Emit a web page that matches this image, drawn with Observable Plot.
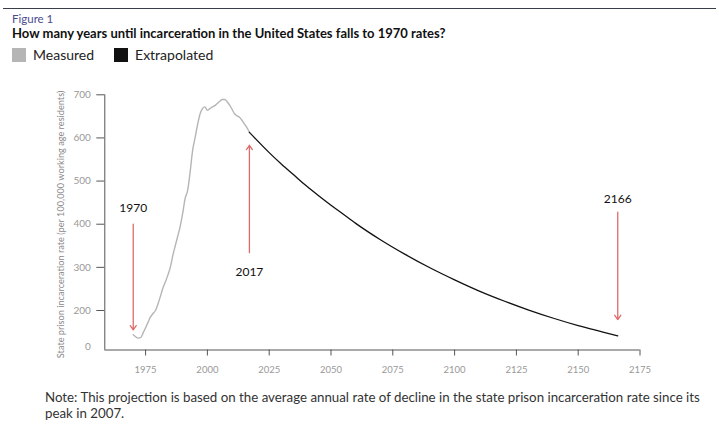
<!DOCTYPE html>
<html><head><meta charset="utf-8">
<script src="https://cdn.jsdelivr.net/npm/d3@7"></script>
<script src="https://cdn.jsdelivr.net/npm/@observablehq/plot@0.6"></script>
<style>
body{margin:0;background:#fff;font-family:Lato,"Open Sans",sans-serif;}
#wrap{position:relative;width:719px;height:431px;overflow:hidden;background:#fff;}
.rule{position:absolute;left:3px;right:3px;top:8px;height:0;border-top:1.5px solid #3a3d4a;}
.fig{position:absolute;left:12px;top:12px;font-size:11.5px;color:#4b4c8c;}
.title{position:absolute;left:12px;top:25px;font-size:13px;font-weight:700;color:#111;white-space:nowrap;}
.legend{position:absolute;left:12px;top:46px;display:flex;align-items:center;font-size:14px;color:#222;}
.legend .item{display:flex;align-items:center;margin-right:20px;}
.sw{width:14px;height:14px;display:inline-block;margin-right:7px;}
#chart{position:absolute;left:0;top:70px;}
.note{position:absolute;left:45px;top:389px;width:674px;font-size:13.3px;line-height:16px;color:#333;white-space:nowrap;}
</style></head><body>
<div id="wrap">
  <div class="rule"></div>
  <div class="fig">Figure 1</div>
  <div class="title">How many years until incarceration in the United States falls to 1970 rates?</div>
  <div class="legend" id="legend"></div>
  <div id="chart"></div>
  <div class="note">Note: This projection is based on the average annual rate of decline in the state prison incarceration rate since its<br>peak in 2007.</div>
</div>
<script>
// ---- data ----
const seriesNames = ["Measured", "Extrapolated"];
const seriesColors = ["#b5b5b5", "#111111"];

const measuredYears = [1970,1971,1972,1973,1974,1975,1976,1977,1978,1979,1980,1981,1982,1983,1984,1985,1986,1987,1988,1989,1990,1991,1992,1993,1994,1995,1996,1997,1998,1999,2000,2001,2002,2003,2004,2005,2006,2007,2008,2009,2010,2011,2012,2013,2014,2015,2016,2017];
const measuredRates = [144,139,136,137,148,160,173,185,193,200,215,233,252,266,282,300,327,350,372,395,425,460,478,520,570,600,630,655,668,672,664,668,672,675,680,685,689,689,684,676,666,656,651,648,641,632,624,613];

const extrapYears = [2017,2025,2030,2035,2040,2045,2050,2055,2060,2070,2080,2090,2100,2110,2120,2130,2140,2150,2160,2166];
const extrapRates = [613,566,539,514,489,466,444,423,402,364,330,299,271,245,222,201,182,165,150,141];

const arrowYears = [1970, 2017, 2166];
const arrowFrom  = [400, 334, 428];
const arrowTo    = [155, 583, 179];

const xTicks = [1975,2000,2025,2050,2075,2100,2125,2150,2175];
const yTicks = [200,300,400,500,600,700];
const yFloor = 108.4;      // bottom of the axis, labelled "0" in the reference
const xStart = 1958.5;
const yTitle = "State prison incarceration rate (per 100,000 working age residents)";

// ---- legend ----
const legend = document.getElementById("legend");
seriesNames.forEach((n, i) => {
  const it = document.createElement("span"); it.className = "item";
  const sw = document.createElement("span"); sw.className = "sw"; sw.style.background = seriesColors[i];
  it.appendChild(sw); it.appendChild(document.createTextNode(n));
  legend.appendChild(it);
});

// ---- tables ----
const measured = measuredYears.map((year, i) => ({year, rate: measuredRates[i]}));
const extrap = extrapYears.map((year, i) => ({year, rate: extrapRates[i]}));
const arrows = arrowYears.map((year, i) => ({year, from: arrowFrom[i], to: arrowTo[i]}));

const labelDy = [-16, 19, -13];
const arrowColor = "#e06a6a";

const chart = Plot.plot({
  width: 719, height: 315,
  marginLeft: 104.3, marginRight: 79.5, marginTop: 24.3, marginBottom: 35.5,
  x: {domain: [xStart, 2175]},
  y: {domain: [yFloor, 700]},
  style: {fontFamily: "Lato, 'Open Sans', sans-serif", background: "transparent"},
  marks: [
    Plot.ruleY([yFloor], {stroke: "#555", strokeWidth: 1}),
    Plot.ruleX([xStart], {stroke: "#555", strokeWidth: 1}),
    Plot.axisX({ticks: xTicks, tickFormat: "d", tickSize: 6, tickPadding: 10, fontSize: 9.5, fill: "#999", stroke: "#555", label: null}),
    Plot.axisY({ticks: yTicks, tickFormat: "d", tickSize: 8, tickPadding: 6, fontSize: 10, fill: "#999", stroke: "#555", label: null}),
    Plot.axisY({ticks: [yFloor], tickFormat: () => "0", tickSize: 0, tickPadding: 14, dy: -3, fontSize: 10, fill: "#999", stroke: "none", label: null}),
    Plot.text([yTitle], {text: d => d, frameAnchor: "left", textAnchor: "middle", rotate: -90, dx: -44, dy: 2, fontSize: 9.2, fill: "#888"}),
    Plot.line(measured, {x: "year", y: "rate", stroke: seriesColors[0], strokeWidth: 1.4, curve: "monotone-x"}),
    Plot.line(extrap, {x: "year", y: "rate", stroke: seriesColors[1], strokeWidth: 1.3, curve: "monotone-x"}),
    Plot.arrow(arrows, {x: "year", y1: "from", y2: "to", stroke: arrowColor, strokeWidth: 1.3, headLength: 6, headAngle: 70}),
    ...arrows.map((a, i) => Plot.text([a], {x: "year", y: "from", text: d => String(d.year), dy: labelDy[i], fontSize: 12, fill: "#111"}))
  ]
});
document.getElementById("chart").appendChild(chart);
</script>
</body></html>
